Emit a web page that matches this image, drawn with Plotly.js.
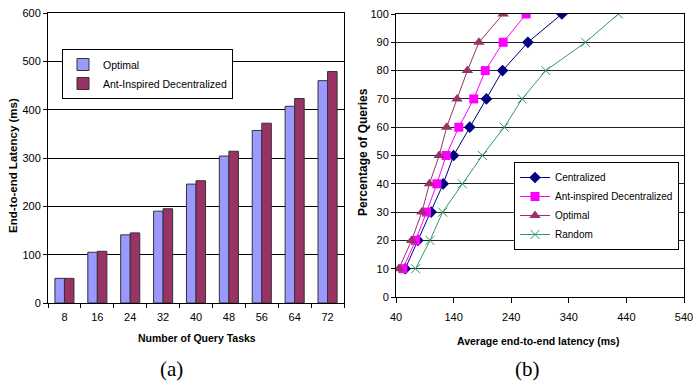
<!DOCTYPE html>
<html><head><meta charset="utf-8">
<script src="https://cdn.plot.ly/plotly-3.0.1.min.js"></script>
<style>html,body{margin:0;padding:0;background:#fff}#chart{width:693px;height:385px}</style>
</head><body><div id="chart"></div>
<script>
// Panel (a)
const tasks = ["8","16","24","32","40","48","56","64","72"];
const optimalLatency = [51, 105, 141, 190, 246, 304, 357, 407, 460];
const antLatency = [51, 107, 145, 195, 253, 314, 372, 423, 479];
// Panel (b)
const percentQueries = [10, 20, 30, 40, 50, 60, 70, 80, 90, 100];
const centralized = [56, 78, 101, 122, 140, 168, 197, 225, 269, 328];
const antDecentral = [52, 74, 93, 111, 127, 149, 175, 195, 226, 266];
const optimalB = [45, 67, 85, 98, 115, 128, 146, 164, 184, 226];
const randomB = [74, 99, 121, 155, 190, 228, 259, 300, 369, 426];
const xTicksB = [40, 140, 240, 340, 440, 540];

const FONT = "Liberation Sans, Arial, sans-serif";
const W = 693, H = 385;
const px = v => v / W, py = v => 1 - v / H;

const traces = [
  {type:'bar', x:tasks, y:optimalLatency, name:'Optimal', xaxis:'x', yaxis:'y',
   marker:{color:'#9999ff', line:{color:'#333333', width:1}}, legend:'legend'},
  {type:'bar', x:tasks, y:antLatency, name:'Ant-Inspired Decentralized', xaxis:'x', yaxis:'y',
   marker:{color:'#993366', line:{color:'#333333', width:1}}, legend:'legend'},
  {type:'scatter', mode:'lines+markers', x:centralized, y:percentQueries, name:'Centralized',
   xaxis:'x2', yaxis:'y2', line:{color:'#000080', width:1}, marker:{symbol:'diamond', size:9, color:'#000080'}, legend:'legend2'},
  {type:'scatter', mode:'lines+markers', x:antDecentral, y:percentQueries, name:'Ant-inspired Decentralized',
   xaxis:'x2', yaxis:'y2', line:{color:'#ff00ff', width:1}, marker:{symbol:'square', size:9, color:'#ff00ff'}, legend:'legend2'},
  {type:'scatter', mode:'lines+markers', x:optimalB, y:percentQueries, name:'Optimal',
   xaxis:'x2', yaxis:'y2', line:{color:'#993366', width:1}, marker:{symbol:'triangle-up', size:10, color:'#993366'}, legend:'legend2'},
  {type:'scatter', mode:'lines+markers', x:randomB, y:percentQueries, name:'Random',
   xaxis:'x2', yaxis:'y2', line:{color:'#339966', width:1}, marker:{symbol:'x-thin-open', size:9, color:'#339966', line:{color:'#339966', width:1}}, legend:'legend2'}
];

const tickFont = {family:FONT, size:11, color:'#000'};
const legFont = {family:FONT, size:10, color:'#000'};
const layout = {
  width:W, height:H, margin:{l:0,r:0,t:0,b:0},
  paper_bgcolor:'#fff', plot_bgcolor:'#fff',
  font:{family:FONT, size:11, color:'#000'},
  barmode:'group', bargap:0.42, bargroupgap:0,
  xaxis:{domain:[px(48), px(344)], type:'category', tickson:'boundaries', ticks:'outside', ticklen:4,
    tickcolor:'#000', showline:true, linecolor:'#000', linewidth:1, mirror:true, tickfont:tickFont, showgrid:false,
    ticklabelstandoff:4},
  yaxis:{domain:[py(303), py(13)], range:[0,600], dtick:100, ticks:'outside', ticklen:4, tickcolor:'#000',
    showline:true, linecolor:'#000', linewidth:1, mirror:true, gridcolor:'#000', gridwidth:1, zeroline:false, tickfont:tickFont},
  xaxis2:{domain:[px(396), px(684)], range:[40,540], tickvals:xTicksB, ticks:'outside', ticklen:5, tickcolor:'#000',
    showline:true, linecolor:'#000', linewidth:1, mirror:true, showgrid:false, zeroline:false, tickfont:tickFont, anchor:'y2',
    ticklabelstandoff:5, ticklabeloverflow:'allow'},
  yaxis2:{domain:[py(297), py(14)], range:[0,100], dtick:10, ticks:'outside', ticklen:4, tickcolor:'#000',
    showline:true, linecolor:'#000', linewidth:1, mirror:true, gridcolor:'#222', gridwidth:1, zeroline:false, tickfont:tickFont, anchor:'x2'},
  legend:{x:px(62), y:py(49), xanchor:'left', yanchor:'top', bgcolor:'#fff', bordercolor:'#000', borderwidth:1,
    font:{family:FONT, size:10.5, color:'#000'}, tracegroupgap:0},
  legend2:{x:px(514), y:py(162), xanchor:'left', yanchor:'top', bgcolor:'#fff', bordercolor:'#000', borderwidth:1,
    font:legFont, tracegroupgap:0},
  annotations:[
    {text:'<b>End-to-end Latency (ms)</b>', x:px(13), y:py(166), xref:'paper', yref:'paper', xanchor:'center', yanchor:'middle', showarrow:false, textangle:-90, font:{family:FONT, size:11.5}},
    {text:'<b>Number of Query Tasks</b>', x:px(197), y:py(338), xref:'paper', yref:'paper', xanchor:'center', yanchor:'middle', showarrow:false, font:{family:FONT, size:10.5}},
    {text:'<b>Percentage of Queries</b>', x:px(363), y:py(152), xref:'paper', yref:'paper', xanchor:'center', yanchor:'middle', showarrow:false, textangle:-90, font:{family:FONT, size:12}},
    {text:'<b>Average end-to-end latency (ms)</b>', x:px(538), y:py(341), xref:'paper', yref:'paper', xanchor:'center', yanchor:'middle', showarrow:false, font:{family:FONT, size:10.5}},
    {text:'(a)', x:px(171), y:py(369), xref:'paper', yref:'paper', xanchor:'center', yanchor:'middle', showarrow:false, font:{family:'Liberation Serif, DejaVu Serif, serif', size:21}},
    {text:'(b)', x:px(527), y:py(369), xref:'paper', yref:'paper', xanchor:'center', yanchor:'middle', showarrow:false, font:{family:'Liberation Serif, DejaVu Serif, serif', size:21}}
  ]
};
Plotly.newPlot('chart', traces, layout, {staticPlot:true, displayModeBar:false});
</script></body></html>
